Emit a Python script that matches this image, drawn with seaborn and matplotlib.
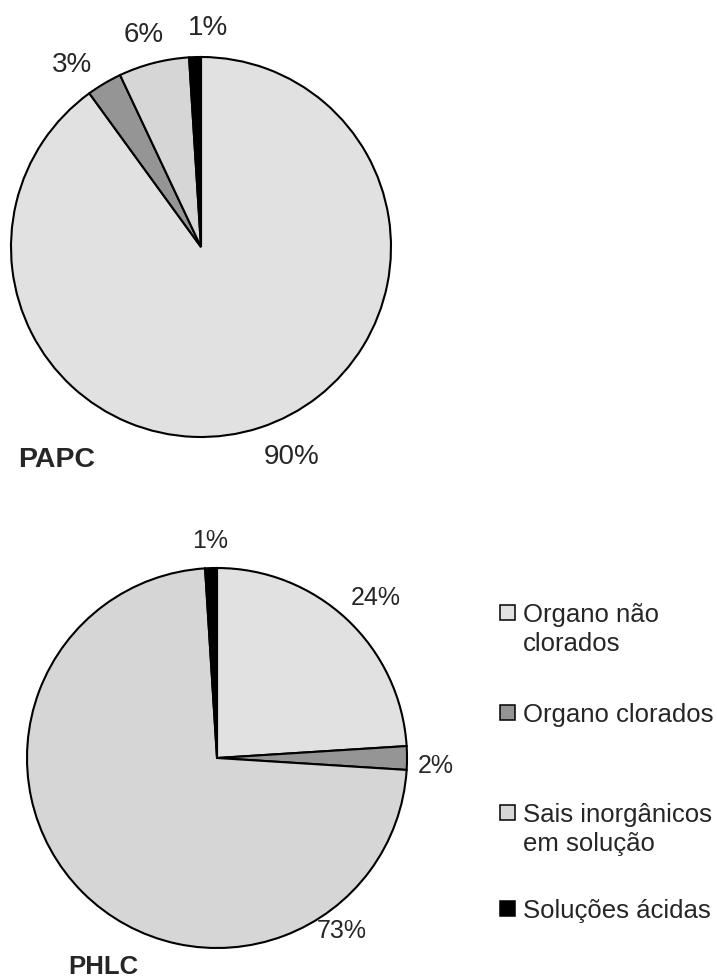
import matplotlib

matplotlib.use("Agg")
import matplotlib.pyplot as plt
import numpy as np
import seaborn as sns
from matplotlib.patches import Rectangle

# data
CATEGORIES = ["Organo não\nclorados", "Organo clorados", "Sais inorgânicos\nem solução", "Soluções ácidas"]
PAPC_VALUES = [90, 3, 6, 1]
PHLC_VALUES = [24, 2, 73, 1]
CHART_NAMES = ["PAPC", "PHLC"]

# style
COLORS = ["#e1e1e1", "#959595", "#d6d6d6", "#000000"]
FONT = ["Liberation Sans", "DejaVu Sans"]
W, H = 717, 978

# per-label (angle offset in degrees, radius factor) relative to wedge middle
PAPC_NUDGE = [(5.4, 1.20), (4.6, 1.18), (0.8, 1.16), (-3.6, 1.16)]
PHLC_NUDGE = [(-1.4, 1.19), (-1.8, 1.15), (81.0, 1.12), (0.0, 1.15)]


def px_box(cx, cy, r):
    # pixel center/radius (from top-left) -> figure fraction axes box
    return [(cx - r) / W, (H - cy - r) / H, 2 * r / W, 2 * r / H]


def draw_pie(fig, box, values, nudges, fontsize):
    ax = fig.add_axes(box)
    wedges, _ = ax.pie(
        values,
        colors=COLORS,
        startangle=90,
        counterclock=False,
        radius=1,
        wedgeprops={"edgecolor": "black", "linewidth": 1.5},
    )
    ax.set_xlim(-1, 1)
    ax.set_ylim(-1, 1)
    ax.set_aspect("equal")
    ax.axis("off")
    for w, v, (dth, rf) in zip(wedges, values, nudges):
        ang = np.deg2rad((w.theta1 + w.theta2) / 2 + dth)
        ax.text(rf * np.cos(ang), rf * np.sin(ang), f"{v}%", ha="center", va="center",
                fontsize=fontsize, clip_on=False)
    return ax


def main():
    sns.set_theme(style="white")
    plt.rcParams["font.family"] = FONT

    fig = plt.figure(figsize=(W / 100, H / 100), dpi=100)

    draw_pie(fig, px_box(201, 248, 190), PAPC_VALUES, PAPC_NUDGE, 20)
    draw_pie(fig, px_box(217, 759, 190), PHLC_VALUES, PHLC_NUDGE, 18)

    fig.text(18 / W, 1 - 460 / H, CHART_NAMES[0], ha="left", va="center",
             fontsize=20.5, fontweight="bold")
    fig.text(68 / W, 1 - 967 / H, CHART_NAMES[1], ha="left", va="center",
             fontsize=18.5, fontweight="bold")

    # legend drawn by hand so the marker sits on the first text line
    legend_y = [613, 713, 813, 909]
    size = 15
    for label, color, yc in zip(CATEGORIES, COLORS, legend_y):
        fig.add_artist(Rectangle((500 / W, (H - yc - size / 2) / H), size / W, size / H,
                                 transform=fig.transFigure, facecolor=color,
                                 edgecolor="black", linewidth=1.1))
        fig.text(523 / W, 1 - (yc - 10) / H, label, ha="left", va="top",
                 fontsize=18.5, linespacing=1.25)

    fig.savefig("out.png", dpi=100)
    plt.close(fig)


if __name__ == "__main__":
    main()
